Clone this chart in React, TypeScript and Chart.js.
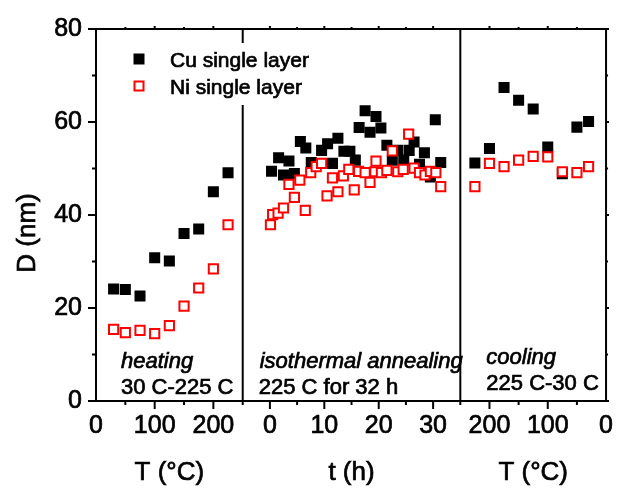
import React, { useEffect, useRef } from 'react';
import { Chart, registerables } from 'chart.js';

Chart.register(...registerables);

// ---- data ----
const heatingT = [30, 50, 75, 100, 125, 150, 175, 200, 225];
const heatingCu = [24.1, 24.0, 22.6, 30.8, 30.1, 36.0, 37.0, 45.0, 49.1];
const heatingNi = [15.4, 14.7, 15.2, 14.5, 16.2, 20.4, 24.3, 28.4, 37.9];

const annealTimeCu = [0.3, 1.6, 2.5, 3.5, 4.5, 5.6, 6.6, 7.6, 9.5, 10.6, 11.5, 12.5, 13.6, 14.7, 15.7, 16.4, 17.5, 18.4, 19.5, 20.4, 21.5, 22.5, 23.5, 24.6, 25.6, 26.5, 27.5, 28.4, 29.5, 30.4, 31.4];
const annealCu = [49.4, 52.3, 48.6, 51.6, 48.9, 55.8, 54.4, 51.3, 53.9, 55.3, 51.1, 56.5, 53.7, 53.7, 51.8, 58.8, 62.4, 57.8, 61.2, 58.7, 55.0, 51.8, 53.9, 51.8, 53.9, 55.7, 50.9, 53.4, 48.2, 60.5, 51.3];

const annealTimeNi = [0.1, 0.5, 1.5, 2.5, 3.5, 4.5, 5.5, 6.5, 7.5, 8.5, 9.5, 10.5, 11.5, 12.5, 13.5, 14.5, 15.5, 16.3, 17.5, 18.4, 19.3, 19.5, 20.5, 21.5, 22.5, 23.5, 24.5, 25.5, 26.5, 27.5, 28.5, 29.5, 30.5, 31.4];
const annealNi = [37.9, 40.1, 40.4, 41.5, 46.6, 43.8, 47.5, 41.0, 49.1, 50.4, 51.1, 44.1, 48.0, 45.0, 48.4, 49.8, 45.4, 49.4, 49.1, 47.0, 49.3, 51.6, 49.1, 49.6, 53.8, 49.3, 49.8, 57.4, 50.1, 49.1, 48.6, 49.4, 49.1, 46.1];

const coolingT = [225, 200, 175, 150, 125, 100, 75, 50, 30];
const coolingCu = [51.2, 54.3, 67.4, 64.7, 62.8, 54.6, 48.9, 58.9, 60.1];
const coolingNi = [46.1, 51.1, 50.4, 51.8, 52.6, 52.5, 49.3, 49.1, 50.4];

const seriesNames = ['Cu single layer', 'Ni single layer'];
const yTickLabels = [0, 20, 40, 60, 80];

const FONT = "'Liberation Sans', Arial, Helvetica, sans-serif";
const RED = '#ff0000';
const TEXT_STROKE = 0.7;

const pts = (xs: number[], ys: number[]) => xs.map((x, i) => ({ x, y: ys[i] }));

const cuStyle = {
  pointStyle: 'rect',
  pointRadius: 7.8,
  backgroundColor: '#000',
  borderColor: '#000',
  borderWidth: 0,
  showLine: false,
};
const niStyle = {
  pointStyle: 'rect',
  pointRadius: 6.5,
  backgroundColor: '#fff',
  borderColor: RED,
  borderWidth: 2,
  showLine: false,
};

const framePlugin = {
  id: 'framePlugin',
  afterDraw(chart: any) {
    const ctx: CanvasRenderingContext2D = chart.ctx;
    const { left, right, top, bottom } = chart.chartArea;
    const x1 = chart.scales.x1;
    const x2 = chart.scales.x2;
    const x3 = chart.scales.x3;
    const ys = chart.scales.y;
    ctx.save();
    ctx.strokeStyle = '#000';
    ctx.lineWidth = 2;
    const line = (ax: number, ay: number, bx: number, by: number) => {
      ctx.beginPath();
      ctx.moveTo(ax, ay);
      ctx.lineTo(bx, by);
      ctx.stroke();
    };
    // frame
    ctx.beginPath();
    ctx.rect(left, top, right - left, bottom - top);
    ctx.stroke();
    // dividers
    line(x1.right, top, x1.right, bottom + 4);
    line(x2.right, top, x2.right, bottom + 4);
    // x ticks
    for (const s of [x1, x2, x3]) {
      for (const t of s.ticks) {
        const px = s.getPixelForValue(t.value);
        if (Math.abs(px - s.left) < 1 || Math.abs(px - s.right) < 1) continue;
        const major = t.label !== '' && t.label !== undefined;
        line(px, bottom, px, bottom + (major ? 8 : 4));
        line(px, top, px, top - (major ? 3 : 2));
      }
    }
    // y ticks
    for (const t of ys.ticks) {
      const py = ys.getPixelForValue(t.value);
      const major = t.label !== '' && t.label !== undefined;
      line(left, py, left - (major ? 8 : 4), py);
      line(right, py, right + (major ? 3 : 2), py);
    }

    const text = (s: string, x: number, y: number) => {
      ctx.strokeStyle = '#000';
      ctx.lineWidth = TEXT_STROKE;
      ctx.strokeText(s, x, y);
      ctx.fillText(s, x, y);
    };

    // axis titles
    ctx.fillStyle = '#000';
    ctx.font = `26px ${FONT}`;
    ctx.textAlign = 'center';
    ctx.textBaseline = 'middle';
    text('T (°C)', (x1.left + x1.right) / 2, bottom + 72);
    text('t (h)', (x2.left + x2.right) / 2, bottom + 72);
    text('T (°C)', (x3.left + x3.right) / 2, bottom + 72);
    ctx.save();
    ctx.translate(left - 68, (top + bottom) / 2 + 18);
    ctx.rotate(-Math.PI / 2);
    text('D (nm)', 0, 0);
    ctx.restore();

    // annotations
    ctx.textAlign = 'left';
    ctx.textBaseline = 'alphabetic';
    ctx.font = `italic 22px ${FONT}`;
    text('heating', x1.left + 25, bottom - 33);
    text('isothermal annealing', x2.left + 17, bottom - 33);
    text('cooling', x3.left + 26, bottom - 37);
    ctx.font = `22px ${FONT}`;
    text('30 C-225 C', x1.left + 25, bottom - 7);
    text('225 C for 32 h', x2.left + 16, bottom - 7);
    text('225 C-30 C', x3.left + 26, bottom - 11);

    // legend
    const lx = left + 43;
    const ly1 = top + 30;
    const ly2 = top + 57;
    ctx.fillStyle = '#fff';
    ctx.fillRect(lx - 10, top + 14, 190, 62);
    ctx.fillStyle = '#000';
    ctx.fillRect(lx - 5.5, ly1 - 5.5, 11, 11);
    ctx.fillStyle = '#fff';
    ctx.fillRect(lx - 4.5, ly2 - 4.5, 9, 9);
    ctx.strokeStyle = RED;
    ctx.lineWidth = 2;
    ctx.strokeRect(lx - 4.5, ly2 - 4.5, 9, 9);
    ctx.fillStyle = '#000';
    ctx.font = `21px ${FONT}`;
    text(seriesNames[0], left + 74, ly1 + 8);
    text(seriesNames[1], left + 74, ly2 + 8);
    ctx.restore();
  },
};

export default function App() {
  const ref = useRef<HTMLCanvasElement | null>(null);
  useEffect(() => {
    if (!ref.current) return;
    Chart.defaults.font.family = FONT;
    const xCommon = (min: number, max: number, step: number, labelEvery: number, weight: number, reverse = false) => ({
      type: 'linear',
      position: 'bottom',
      stack: 'panels',
      stackWeight: weight,
      min,
      max,
      reverse,
      grid: { display: false, drawTicks: false },
      border: { display: false },
      ticks: {
        stepSize: step,
        autoSkip: false,
        maxRotation: 0,
        minRotation: 0,
        padding: 10,
        color: '#000',
        textStrokeColor: '#000',
        textStrokeWidth: TEXT_STROKE,
        font: { size: 25, family: FONT },
        callback: (v: number) => (Math.abs(v % labelEvery) < 1e-9 && v >= 0 ? String(v) : ''),
      },
      afterFit: (s: any) => {
        s.height = 88;
      },
    });
    const chart = new Chart(ref.current, {
      type: 'scatter',
      data: {
        datasets: [
          { label: seriesNames[1], data: pts(heatingT, heatingNi), xAxisID: 'x1', yAxisID: 'y', ...niStyle },
          { label: seriesNames[1], data: pts(annealTimeNi, annealNi), xAxisID: 'x2', yAxisID: 'y', ...niStyle },
          { label: seriesNames[1], data: pts(coolingT, coolingNi), xAxisID: 'x3', yAxisID: 'y', ...niStyle },
          { label: seriesNames[0], data: pts(heatingT, heatingCu), xAxisID: 'x1', yAxisID: 'y', ...cuStyle },
          { label: seriesNames[0], data: pts(annealTimeCu, annealCu), xAxisID: 'x2', yAxisID: 'y', ...cuStyle },
          { label: seriesNames[0], data: pts(coolingT, coolingCu), xAxisID: 'x3', yAxisID: 'y', ...cuStyle },
        ] as any,
      },
      options: {
        responsive: false,
        animation: false,
        events: [],
        devicePixelRatio: 1,
        layout: { padding: { left: 0, right: 9, top: 24, bottom: 0 } },
        plugins: {
          legend: { display: false },
          tooltip: { enabled: false },
        },
        scales: {
          x1: xCommon(0, 250, 50, 100, 149) as any,
          x2: xCommon(-5, 35, 5, 10, 221) as any,
          x3: xCommon(0, 250, 50, 100, 148, true) as any,
          y: {
            type: 'linear',
            position: 'left',
            min: 0,
            max: 80,
            grid: { display: false, drawTicks: false },
            border: { display: false },
            ticks: {
              stepSize: 10,
              padding: 14,
              color: '#000',
              textStrokeColor: '#000',
              textStrokeWidth: TEXT_STROKE,
              font: { size: 25, family: FONT },
              callback: (v: number) => (yTickLabels.includes(v) ? String(v) : ''),
            },
            afterFit: (s: any) => {
              s.width = 96;
            },
          } as any,
        },
      },
      plugins: [framePlugin],
    });
    return () => chart.destroy();
  }, []);
  return (
    <div style={{ position: 'absolute', left: 0, top: 0, width: 623, height: 489, background: '#fff' }}>
      <canvas ref={ref} width={623} height={489} />
    </div>
  );
}
